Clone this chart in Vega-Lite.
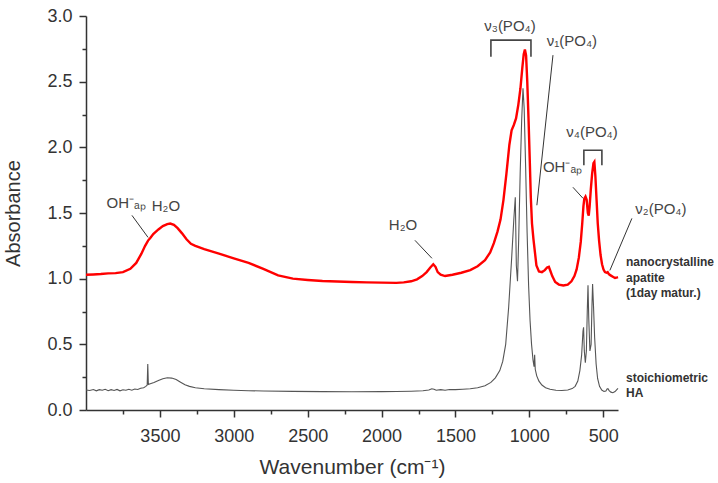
{
  "$schema": "https://vega.github.io/schema/vega-lite/v6.json",
  "width": 532,
  "height": 394,
  "autosize": {"type": "none"},
  "padding": {"left": 86, "top": 16, "right": 100, "bottom": 73},
  "config": {"view": {"stroke": null}, "font": "Liberation Sans"},
  "datasets": {
    "ha": [
      {"wn": 4000, "a": 0.152}, {"wn": 3975, "a": 0.148}, {"wn": 3950, "a": 0.156}, {"wn": 3930, "a": 0.146},
      {"wn": 3910, "a": 0.155}, {"wn": 3890, "a": 0.15}, {"wn": 3870, "a": 0.158}, {"wn": 3850, "a": 0.147},
      {"wn": 3830, "a": 0.155}, {"wn": 3810, "a": 0.149}, {"wn": 3790, "a": 0.157}, {"wn": 3770, "a": 0.146},
      {"wn": 3750, "a": 0.154}, {"wn": 3730, "a": 0.15}, {"wn": 3710, "a": 0.158}, {"wn": 3690, "a": 0.151},
      {"wn": 3670, "a": 0.16}, {"wn": 3650, "a": 0.156}, {"wn": 3630, "a": 0.165}, {"wn": 3610, "a": 0.17},
      {"wn": 3595, "a": 0.18}, {"wn": 3586, "a": 0.19}, {"wn": 3582, "a": 0.35}, {"wn": 3578, "a": 0.195},
      {"wn": 3565, "a": 0.2}, {"wn": 3540, "a": 0.21}, {"wn": 3510, "a": 0.225}, {"wn": 3480, "a": 0.238},
      {"wn": 3450, "a": 0.245}, {"wn": 3420, "a": 0.243}, {"wn": 3390, "a": 0.232}, {"wn": 3360, "a": 0.212},
      {"wn": 3330, "a": 0.192}, {"wn": 3300, "a": 0.18}, {"wn": 3260, "a": 0.17}, {"wn": 3200, "a": 0.162},
      {"wn": 3100, "a": 0.155}, {"wn": 3000, "a": 0.15}, {"wn": 2900, "a": 0.147}, {"wn": 2800, "a": 0.145},
      {"wn": 2600, "a": 0.142}, {"wn": 2400, "a": 0.14}, {"wn": 2200, "a": 0.139}, {"wn": 2000, "a": 0.14},
      {"wn": 1900, "a": 0.141}, {"wn": 1800, "a": 0.143}, {"wn": 1720, "a": 0.146}, {"wn": 1680, "a": 0.152},
      {"wn": 1660, "a": 0.162}, {"wn": 1645, "a": 0.158}, {"wn": 1630, "a": 0.15}, {"wn": 1600, "a": 0.155},
      {"wn": 1570, "a": 0.15}, {"wn": 1540, "a": 0.156}, {"wn": 1500, "a": 0.155}, {"wn": 1450, "a": 0.158},
      {"wn": 1400, "a": 0.162}, {"wn": 1350, "a": 0.17}, {"wn": 1300, "a": 0.185}, {"wn": 1260, "a": 0.21},
      {"wn": 1230, "a": 0.245}, {"wn": 1200, "a": 0.3}, {"wn": 1180, "a": 0.37}, {"wn": 1160, "a": 0.5},
      {"wn": 1140, "a": 0.78}, {"wn": 1120, "a": 1.15}, {"wn": 1105, "a": 1.45}, {"wn": 1095, "a": 1.62},
      {"wn": 1088, "a": 1.1}, {"wn": 1080, "a": 0.98}, {"wn": 1072, "a": 1.3}, {"wn": 1062, "a": 1.8},
      {"wn": 1052, "a": 2.2}, {"wn": 1043, "a": 2.45}, {"wn": 1035, "a": 2.3}, {"wn": 1025, "a": 1.85},
      {"wn": 1015, "a": 1.35}, {"wn": 1005, "a": 0.95}, {"wn": 995, "a": 0.68}, {"wn": 985, "a": 0.5},
      {"wn": 975, "a": 0.38}, {"wn": 968, "a": 0.33}, {"wn": 964, "a": 0.42}, {"wn": 960, "a": 0.31},
      {"wn": 950, "a": 0.26}, {"wn": 935, "a": 0.22}, {"wn": 915, "a": 0.19}, {"wn": 890, "a": 0.17},
      {"wn": 860, "a": 0.158}, {"wn": 820, "a": 0.15}, {"wn": 780, "a": 0.148}, {"wn": 740, "a": 0.152},
      {"wn": 710, "a": 0.163}, {"wn": 690, "a": 0.18}, {"wn": 672, "a": 0.22}, {"wn": 658, "a": 0.3},
      {"wn": 646, "a": 0.42}, {"wn": 637, "a": 0.6}, {"wn": 633, "a": 0.63}, {"wn": 628, "a": 0.45},
      {"wn": 621, "a": 0.36}, {"wn": 614, "a": 0.45}, {"wn": 608, "a": 0.75}, {"wn": 603, "a": 0.95},
      {"wn": 598, "a": 0.7}, {"wn": 590, "a": 0.45}, {"wn": 582, "a": 0.5}, {"wn": 576, "a": 0.8},
      {"wn": 572, "a": 0.96}, {"wn": 566, "a": 0.8}, {"wn": 558, "a": 0.55}, {"wn": 548, "a": 0.35},
      {"wn": 538, "a": 0.24}, {"wn": 525, "a": 0.18}, {"wn": 510, "a": 0.152}, {"wn": 495, "a": 0.142},
      {"wn": 482, "a": 0.145}, {"wn": 474, "a": 0.16}, {"wn": 468, "a": 0.162}, {"wn": 460, "a": 0.148},
      {"wn": 448, "a": 0.136}, {"wn": 435, "a": 0.132}, {"wn": 420, "a": 0.14}, {"wn": 408, "a": 0.155},
      {"wn": 400, "a": 0.165}
    ],
    "nano": [
      {"wn": 4000, "a": 1.03}, {"wn": 3950, "a": 1.032}, {"wn": 3900, "a": 1.035}, {"wn": 3850, "a": 1.04},
      {"wn": 3800, "a": 1.042}, {"wn": 3750, "a": 1.05}, {"wn": 3700, "a": 1.075}, {"wn": 3660, "a": 1.12},
      {"wn": 3625, "a": 1.19}, {"wn": 3600, "a": 1.25}, {"wn": 3580, "a": 1.29}, {"wn": 3565, "a": 1.31},
      {"wn": 3545, "a": 1.34}, {"wn": 3510, "a": 1.375}, {"wn": 3480, "a": 1.4}, {"wn": 3450, "a": 1.415},
      {"wn": 3430, "a": 1.42}, {"wn": 3405, "a": 1.41}, {"wn": 3380, "a": 1.385}, {"wn": 3350, "a": 1.345},
      {"wn": 3320, "a": 1.3}, {"wn": 3290, "a": 1.265}, {"wn": 3260, "a": 1.25}, {"wn": 3200, "a": 1.225},
      {"wn": 3100, "a": 1.19}, {"wn": 3000, "a": 1.155}, {"wn": 2900, "a": 1.12}, {"wn": 2800, "a": 1.075},
      {"wn": 2700, "a": 1.025}, {"wn": 2600, "a": 1.0}, {"wn": 2500, "a": 0.99}, {"wn": 2400, "a": 0.982},
      {"wn": 2300, "a": 0.978}, {"wn": 2200, "a": 0.975}, {"wn": 2100, "a": 0.972}, {"wn": 2000, "a": 0.97},
      {"wn": 1900, "a": 0.968}, {"wn": 1850, "a": 0.972}, {"wn": 1800, "a": 0.98}, {"wn": 1760, "a": 0.995},
      {"wn": 1725, "a": 1.02}, {"wn": 1695, "a": 1.05}, {"wn": 1670, "a": 1.085}, {"wn": 1650, "a": 1.11},
      {"wn": 1635, "a": 1.09}, {"wn": 1620, "a": 1.05}, {"wn": 1600, "a": 1.03}, {"wn": 1570, "a": 1.02},
      {"wn": 1520, "a": 1.03}, {"wn": 1460, "a": 1.045}, {"wn": 1400, "a": 1.065}, {"wn": 1350, "a": 1.095},
      {"wn": 1300, "a": 1.14}, {"wn": 1265, "a": 1.2}, {"wn": 1240, "a": 1.27}, {"wn": 1215, "a": 1.36},
      {"wn": 1195, "a": 1.45}, {"wn": 1175, "a": 1.6}, {"wn": 1155, "a": 1.8}, {"wn": 1135, "a": 2.02},
      {"wn": 1120, "a": 2.13}, {"wn": 1105, "a": 2.17}, {"wn": 1090, "a": 2.22}, {"wn": 1075, "a": 2.32},
      {"wn": 1060, "a": 2.45}, {"wn": 1048, "a": 2.6}, {"wn": 1038, "a": 2.71}, {"wn": 1030, "a": 2.745},
      {"wn": 1022, "a": 2.7}, {"wn": 1014, "a": 2.5}, {"wn": 1005, "a": 2.2}, {"wn": 997, "a": 1.9},
      {"wn": 990, "a": 1.62}, {"wn": 982, "a": 1.42}, {"wn": 972, "a": 1.3}, {"wn": 962, "a": 1.2},
      {"wn": 952, "a": 1.1}, {"wn": 935, "a": 1.055}, {"wn": 915, "a": 1.05}, {"wn": 895, "a": 1.065},
      {"wn": 880, "a": 1.085}, {"wn": 868, "a": 1.09}, {"wn": 858, "a": 1.06}, {"wn": 845, "a": 1.02},
      {"wn": 825, "a": 0.975}, {"wn": 800, "a": 0.955}, {"wn": 770, "a": 0.948}, {"wn": 740, "a": 0.955},
      {"wn": 715, "a": 0.98}, {"wn": 695, "a": 1.02}, {"wn": 680, "a": 1.07}, {"wn": 665, "a": 1.16},
      {"wn": 652, "a": 1.28}, {"wn": 642, "a": 1.42}, {"wn": 634, "a": 1.55}, {"wn": 628, "a": 1.61},
      {"wn": 620, "a": 1.625}, {"wn": 612, "a": 1.6}, {"wn": 604, "a": 1.5}, {"wn": 598, "a": 1.48},
      {"wn": 592, "a": 1.55}, {"wn": 584, "a": 1.68}, {"wn": 575, "a": 1.8}, {"wn": 566, "a": 1.88},
      {"wn": 560, "a": 1.89}, {"wn": 553, "a": 1.78}, {"wn": 545, "a": 1.6}, {"wn": 537, "a": 1.42},
      {"wn": 528, "a": 1.29}, {"wn": 518, "a": 1.18}, {"wn": 508, "a": 1.11}, {"wn": 498, "a": 1.07},
      {"wn": 488, "a": 1.05}, {"wn": 478, "a": 1.045}, {"wn": 470, "a": 1.05}, {"wn": 462, "a": 1.035},
      {"wn": 450, "a": 1.025}, {"wn": 435, "a": 1.015}, {"wn": 420, "a": 1.005}, {"wn": 405, "a": 1.01},
      {"wn": 400, "a": 1.012}
    ],
    "notes": [
      {"note": "OH⁻ₐₚ", "wn": 3729, "a": 1.574},
      {"note": "H₂O", "wn": 3459, "a": 1.551},
      {"note": "H₂O", "wn": 1855, "a": 1.406},
      {"note": "ν₃(PO₄)", "wn": 1131, "a": 2.923},
      {"note": "ν₁(PO₄)", "wn": 712, "a": 2.81},
      {"note": "ν₄(PO₄)", "wn": 576, "a": 2.115},
      {"note": "OH⁻ₐₚ", "wn": 776, "a": 1.848},
      {"note": "ν₂(PO₄)", "wn": 110, "a": 1.528}
    ],
    "leaders": [
      {"id": "oh1", "ord": 0, "wn": 3689, "a": 1.482}, {"id": "oh1", "ord": 1, "wn": 3580, "a": 1.314},
      {"id": "h2o", "ord": 0, "wn": 1774, "a": 1.292}, {"id": "h2o", "ord": 1, "wn": 1659, "a": 1.155},
      {"id": "v1", "ord": 0, "wn": 840, "a": 2.702}, {"id": "v1", "ord": 1, "wn": 949, "a": 1.559},
      {"id": "oh2", "ord": 0, "wn": 705, "a": 1.696}, {"id": "oh2", "ord": 1, "wn": 637, "a": 1.612},
      {"id": "v2", "ord": 0, "wn": 306, "a": 1.459}, {"id": "v2", "ord": 1, "wn": 455, "a": 1.063}
    ],
    "brackets": [
      {"id": "v3", "ord": 0, "wn": 1260, "a": 2.69}, {"id": "v3", "ord": 1, "wn": 1260, "a": 2.816},
      {"id": "v3", "ord": 2, "wn": 989, "a": 2.816}, {"id": "v3", "ord": 3, "wn": 989, "a": 2.69},
      {"id": "v4", "ord": 0, "wn": 631, "a": 1.864}, {"id": "v4", "ord": 1, "wn": 631, "a": 1.978},
      {"id": "v4", "ord": 2, "wn": 509, "a": 1.978}, {"id": "v4", "ord": 3, "wn": 509, "a": 1.864}
    ],
    "samples": [
      {"label": "nanocrystalline", "wn": 346, "a": 1.124},
      {"label": "apatite", "wn": 346, "a": 1.002},
      {"label": "(1day matur.)", "wn": 346, "a": 0.888},
      {"label": "stoichiometric", "wn": 346, "a": 0.24},
      {"label": "HA", "wn": 346, "a": 0.126}
    ]
  },
  "layer": [
    {
      "data": {"name": "ha"},
      "mark": {"type": "line", "color": "#555555", "strokeWidth": 1.1},
      "encoding": {
        "x": {
          "field": "wn", "type": "quantitative",
          "scale": {"domain": [400, 4000], "reverse": true, "nice": false, "zero": false},
          "axis": {
            "orient": "bottom",
            "values": [3750, 3250, 2750, 2250, 1750, 1250, 750],
            "labels": false, "domain": false, "grid": false, "title": null,
            "tickSize": 4, "tickWidth": 1.5, "tickColor": "#333333"
          }
        },
        "y": {
          "field": "a", "type": "quantitative",
          "scale": {"domain": [0, 3], "nice": false, "zero": false},
          "axis": {
            "orient": "left",
            "values": [0.25, 0.75, 1.25, 1.75, 2.25, 2.75],
            "labels": false, "domain": false, "grid": false, "title": null,
            "tickSize": 4, "tickWidth": 1.5, "tickColor": "#333333"
          }
        }
      }
    },
    {
      "data": {"name": "nano"},
      "mark": {"type": "line", "color": "#ff0000", "strokeWidth": 2.4},
      "encoding": {
        "x": {
          "field": "wn", "type": "quantitative",
          "axis": {
            "orient": "bottom",
            "values": [3500, 3000, 2500, 2000, 1500, 1000, 500],
            "format": "d", "grid": false,
            "title": "Wavenumber (cm⁻¹)",
            "domainColor": "#333333", "domainWidth": 1.5,
            "tickColor": "#333333", "tickWidth": 1.5, "tickSize": 7,
            "labelFont": "Liberation Sans", "labelFontSize": 18, "labelColor": "#333333", "labelPadding": 10,
            "titleFont": "Liberation Sans", "titleFontSize": 21, "titleFontWeight": "normal", "titleColor": "#333333",
            "titleBaseline": "alphabetic", "titleY": 63
          }
        },
        "y": {
          "field": "a", "type": "quantitative",
          "axis": {
            "orient": "left",
            "values": [0, 0.5, 1, 1.5, 2, 2.5, 3],
            "format": ".1f", "grid": false,
            "title": "Absorbance",
            "domainColor": "#333333", "domainWidth": 1.5,
            "tickColor": "#333333", "tickWidth": 1.5, "tickSize": 7,
            "labelFont": "Liberation Sans", "labelFontSize": 18, "labelColor": "#333333", "labelPadding": 7,
            "titleFont": "Liberation Sans", "titleFontSize": 20, "titleFontWeight": "normal", "titleColor": "#333333",
            "titleAngle": -90, "titleBaseline": "alphabetic", "titleAlign": "center",
            "titleX": -67, "titleY": 197
          }
        }
      }
    },
    {
      "data": {"name": "leaders"},
      "mark": {"type": "line", "color": "#333333", "strokeWidth": 1},
      "encoding": {
        "x": {"field": "wn", "type": "quantitative", "axis": null},
        "y": {"field": "a", "type": "quantitative", "axis": null},
        "detail": {"field": "id"},
        "order": {"field": "ord"}
      }
    },
    {
      "data": {"name": "brackets"},
      "mark": {"type": "line", "color": "#444444", "strokeWidth": 1.6},
      "encoding": {
        "x": {"field": "wn", "type": "quantitative", "axis": null},
        "y": {"field": "a", "type": "quantitative", "axis": null},
        "detail": {"field": "id"},
        "order": {"field": "ord"}
      }
    },
    {
      "data": {"name": "notes"},
      "mark": {"type": "text", "font": "Liberation Sans", "fontSize": 15, "color": "#444444", "align": "center", "baseline": "middle"},
      "encoding": {
        "x": {"field": "wn", "type": "quantitative", "axis": null},
        "y": {"field": "a", "type": "quantitative", "axis": null},
        "text": {"field": "note"}
      }
    },
    {
      "data": {"name": "samples"},
      "mark": {"type": "text", "font": "Liberation Sans", "fontSize": 12, "fontWeight": "bold", "color": "#333333", "align": "left", "baseline": "middle"},
      "encoding": {
        "x": {"field": "wn", "type": "quantitative", "axis": null},
        "y": {"field": "a", "type": "quantitative", "axis": null},
        "text": {"field": "label"}
      }
    }
  ],
  "resolve": {"axis": {"x": "independent", "y": "independent"}}
}
